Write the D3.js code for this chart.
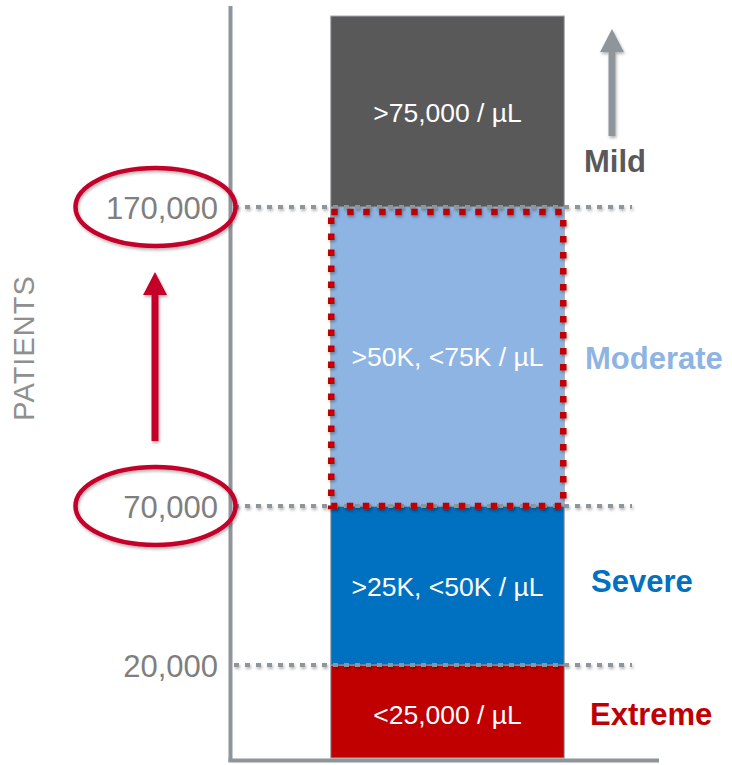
<!DOCTYPE html>
<html>
<head>
<meta charset="utf-8">
<script src="https://cdn.jsdelivr.net/npm/d3@7"></script>
<style>
  html, body { margin: 0; padding: 0; background: #fff; }
  svg { display: block; font-family: "Liberation Sans", Arial, Helvetica, sans-serif; }
</style>
</head>
<body>
<svg id="chart" width="732" height="765"></svg>
<script>
// Platelet-count severity bands, stacked by number of patients
const categories = ["Extreme", "Severe", "Moderate", "Mild"];
const lowerBounds = [0, 20000, 70000, 170000];
const upperBounds = [20000, 70000, 170000, 250000];
const rangeLabels = ["<25,000 / µL", ">25K, <50K / µL", ">50K, <75K / µL", ">75,000 / µL"];
const tickValues = [20000, 70000, 170000];
const circledTicks = [70000, 170000];
const highlighted = "Moderate";
const axisTitle = "PATIENTS";

const fills = { Extreme: "#c00000", Severe: "#0070c0", Moderate: "#8eb4e3", Mild: "#595959" };
const labelColors = { Extreme: "#c00000", Severe: "#0070c0", Moderate: "#8eb4e3", Mild: "#595959" };

const svg = d3.select("#chart");
const defs = svg.append("defs");
const shadow = defs.append("filter").attr("id", "soft").attr("x", "-20%").attr("y", "-20%")
  .attr("width", "140%").attr("height", "160%");
shadow.append("feDropShadow").attr("dx", 1).attr("dy", 2).attr("stdDeviation", 1.6)
  .attr("flood-color", "#000").attr("flood-opacity", 0.3);

// The bands are schematic, so the value axis is piecewise linear between breakpoints
const y = d3.scaleLinear()
  .domain([0, 20000, 70000, 170000, 250000])
  .range([758, 665, 506, 207, 16]);

const x = d3.scaleBand().domain(["platelets"]).range([235, 660]).paddingInner(0).paddingOuter(0.41);

const axisColor = "#8e969c";
const rows = categories.map((c, i) => ({ c, lo: lowerBounds[i], hi: upperBounds[i], label: rangeLabels[i] }));

// stacked bar segments
const bx = x("platelets"), bw = x.bandwidth();
svg.append("g").selectAll("rect").data(rows).join("rect")
  .attr("x", bx).attr("width", bw)
  .attr("y", d => y(d.hi)).attr("height", d => y(d.lo) - y(d.hi))
  .attr("fill", d => fills[d.c])
  .attr("stroke", "#a3a8ad").attr("stroke-width", 1);

// dotted reference lines at each tick
svg.append("g").attr("filter", "url(#soft)").selectAll("line").data(tickValues).join("line")
  .attr("x1", 234).attr("x2", 632)
  .attr("y1", d => y(d)).attr("y2", d => y(d))
  .attr("stroke", axisColor).attr("stroke-width", 4).attr("stroke-dasharray", "5,6");

// red dotted outline around the highlighted band
const hl = rows.find(r => r.c === highlighted);
svg.append("rect").attr("filter", "url(#soft)")
  .attr("x", bx + 0.5).attr("width", bw - 1.5)
  .attr("y", y(hl.hi) + 5).attr("height", y(hl.lo) - y(hl.hi) - 5)
  .attr("fill", "none").attr("stroke", "#c00000").attr("stroke-width", 6.5)
  .attr("stroke-dasharray", "6.5,9.5");

// axes
svg.append("line").attr("x1", 230.5).attr("x2", 230.5).attr("y1", 6).attr("y2", 762)
  .attr("stroke", axisColor).attr("stroke-width", 4);
svg.append("line").attr("x1", 228.5).attr("x2", 659).attr("y1", 760.5).attr("y2", 760.5)
  .attr("stroke", axisColor).attr("stroke-width", 4);

// tick labels
const fmt = d3.format(",");
svg.append("g").selectAll("text").data(tickValues).join("text")
  .attr("x", 218).attr("y", d => y(d) + 12)
  .attr("text-anchor", "end").attr("font-size", 31).attr("fill", "#7f7f7f")
  .text(d => fmt(d));

// circles around the tick values that bound the highlighted band
svg.append("g").attr("filter", "url(#soft)").selectAll("ellipse").data(circledTicks).join("ellipse")
  .attr("cx", 155.5).attr("cy", d => y(d))
  .attr("rx", 80).attr("ry", 39)
  .attr("fill", "none").attr("stroke", "#c4002b").attr("stroke-width", 4.5);

// upward arrow helper
function arrow(cx, top, bottom, color) {
  const hw = 12, hh = 23, sw = 3.5;
  return svg.append("path").attr("filter", "url(#soft)")
    .attr("d", `M${cx},${top} L${cx + hw},${top + hh} L${cx + sw},${top + hh} L${cx + sw},${bottom}
      L${cx - sw},${bottom} L${cx - sw},${top + hh} L${cx - hw},${top + hh} Z`)
    .attr("fill", color);
}
arrow(155, y(170000) + 65, y(70000) - 65, "#c4002b");
arrow(612, 29, 136, axisColor);

// range labels inside the segments
const innerDy = { Extreme: 12, Severe: 10, Moderate: 9, Mild: 10 };
svg.append("g").selectAll("text").data(rows).join("text")
  .attr("x", bx + bw / 2).attr("y", d => (y(d.lo) + y(d.hi)) / 2 + innerDy[d.c])
  .attr("text-anchor", "middle").attr("font-size", 26.5).attr("fill", "#fff")
  .text(d => d.label);

// severity names beside the bar
const nameX = { Extreme: 590, Severe: 591, Moderate: 585, Mild: 584 };
const nameDy = { Extreme: 13.5, Severe: 6.5, Moderate: 12.5 };
svg.append("g").selectAll("text").data(rows).join("text")
  .attr("x", d => nameX[d.c])
  .attr("y", d => d.c === "Mild" ? 172 : (y(d.lo) + y(d.hi)) / 2 + nameDy[d.c])
  .attr("font-size", 31).attr("font-weight", "bold").attr("fill", d => labelColors[d.c])
  .text(d => d.c);

// axis title
svg.append("text")
  .attr("transform", "translate(34,348) rotate(-90)")
  .attr("text-anchor", "middle").attr("font-size", 29).attr("letter-spacing", 1)
  .attr("fill", "#8f8f8f")
  .text(axisTitle);
</script>
</body>
</html>
